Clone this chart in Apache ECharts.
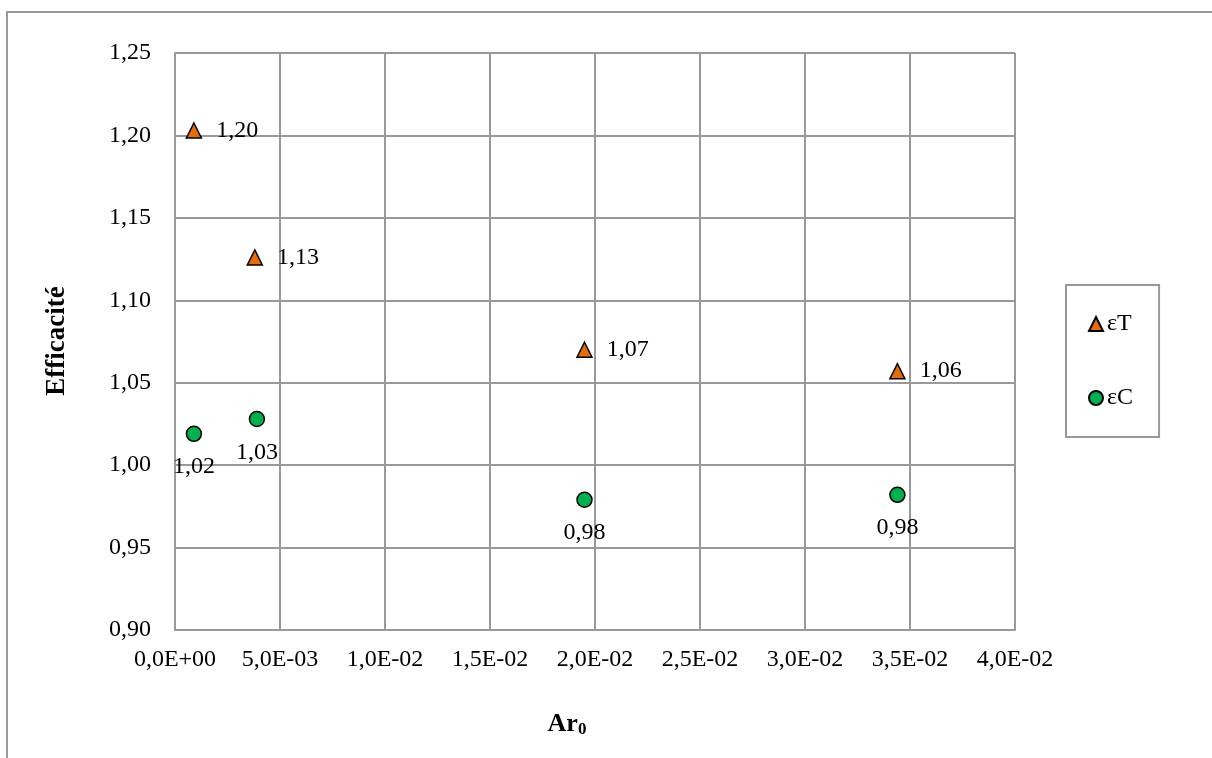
<!DOCTYPE html>
<html>
<head>
<meta charset="utf-8">
<script src="https://cdn.jsdelivr.net/npm/echarts@6/dist/echarts.min.js"></script>
<style>html,body{margin:0;padding:0;background:#fff}#c{width:1212px;height:758px}</style>
</head>
<body>
<div id="c"></div>
<script>
const seriesNames = ['εT', 'εC'];
const arT = [0.0009, 0.0038, 0.0195, 0.0344];
const effT = [1.203, 1.126, 1.070, 1.057];
const arC = [0.0009, 0.0039, 0.0195, 0.0344];
const effC = [1.019, 1.028, 0.979, 0.982];
const xTicks = { min: 0, max: 0.04, interval: 0.005 };
const yTicks = { min: 0.9, max: 1.25, interval: 0.05 };
const xTitle = 'Ar';
const xTitleSub = '0';
const yTitle = 'Efficacité';

const FONT = '"Liberation Serif", "DejaVu Serif", serif';
const GRID = '#999999';
const FS = 24;

function fmtExp(v) {
  if (Math.abs(v) < 1e-12) return '0,0E+00';
  let s = v.toExponential(1);
  let [m, e] = s.split('e');
  let sign = e[0] === '-' ? '-' : '+';
  let n = Math.abs(parseInt(e, 10));
  return m.replace('.', ',') + 'E' + sign + (n < 10 ? '0' + n : '' + n);
}
function fmtY(v) { return v.toFixed(2).replace('.', ','); }

const chart = echarts.init(document.getElementById('c'), null, { renderer: 'canvas' });
chart.setOption({
  animation: false,
  backgroundColor: '#fff',
  textStyle: { fontFamily: FONT },
  grid: { left: 175, right: 197, top: 53, bottom: 128, containLabel: false },
  xAxis: {
    type: 'value', min: xTicks.min, max: xTicks.max, interval: xTicks.interval,
    axisLine: { show: true, lineStyle: { color: GRID, width: 2 } },
    axisTick: { show: false },
    splitLine: { show: true, lineStyle: { color: GRID, width: 2 } },
    axisLabel: { formatter: fmtExp, fontFamily: FONT, fontSize: FS, color: '#000', margin: 18 }
  },
  yAxis: {
    type: 'value', min: yTicks.min, max: yTicks.max, interval: yTicks.interval,
    axisLine: { show: true, lineStyle: { color: GRID, width: 2 } },
    axisTick: { show: false },
    splitLine: { show: true, lineStyle: { color: GRID, width: 2 } },
    axisLabel: { formatter: fmtY, fontFamily: FONT, fontSize: FS, color: '#000', margin: 24 }
  },
  legend: {
    orient: 'vertical', left: 1066, top: 285,
    data: [
      { name: seriesNames[0], icon: 'triangle' },
      { name: seriesNames[1], icon: 'circle' }
    ],
    itemWidth: 14, itemHeight: 14, itemGap: 50,
    padding: [27, 26, 27, 22],
    borderColor: GRID, borderWidth: 2,
    textStyle: { fontFamily: FONT, fontSize: FS, color: '#000', padding: [0, 0, 0, -1] }
  },
  graphic: [
    { type: 'polyline', silent: true, shape: { points: [[7, 760], [7, 12], [1212, 12]] },
      style: { fill: 'none', stroke: GRID, lineWidth: 2 }, z: -1 },
    { type: 'text', silent: true, x: 57, y: 341, rotation: Math.PI / 2,
      style: { text: yTitle, font: 'bold 27px ' + FONT, fill: '#000', align: 'center', verticalAlign: 'middle' } },
    { type: 'text', silent: true, x: 567, y: 724,
      style: {
        text: '{a|' + xTitle + '}{b|' + xTitleSub + '}',
        align: 'center', verticalAlign: 'middle',
        rich: {
          a: { fontFamily: FONT, fontWeight: 'bold', fontSize: 26, fill: '#000' },
          b: { fontFamily: FONT, fontWeight: 'bold', fontSize: 17, fill: '#000', padding: [12, 0, 0, 0] }
        }
      } }
  ],
  series: [
    {
      name: seriesNames[0], type: 'scatter', symbol: 'triangle', symbolSize: 15,
      data: arT.map((x, i) => [x, effT[i]]),
      itemStyle: { color: '#E46C0A', borderColor: '#000', borderWidth: 1.5, opacity: 1 },
      label: { show: true, position: 'right', distance: 14, formatter: p => fmtY(p.value[1]),
        fontFamily: FONT, fontSize: FS, color: '#000' }
    },
    {
      name: seriesNames[1], type: 'scatter', symbol: 'circle', symbolSize: 15,
      data: arC.map((x, i) => [x, effC[i]]),
      itemStyle: { color: '#00B050', borderColor: '#000', borderWidth: 1.5, opacity: 1 },
      label: { show: true, position: 'bottom', distance: 13, formatter: p => fmtY(p.value[1]),
        fontFamily: FONT, fontSize: FS, color: '#000' }
    }
  ]
});
</script>
</body>
</html>
